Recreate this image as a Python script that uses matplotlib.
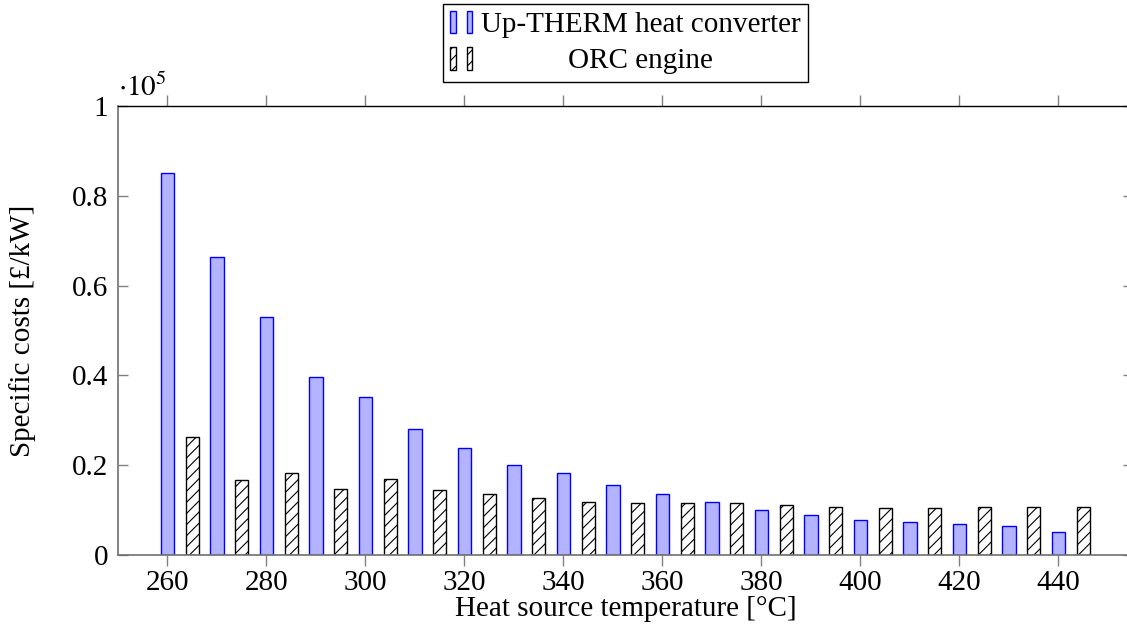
import matplotlib
matplotlib.use("Agg")
from matplotlib import pyplot as plt
from matplotlib.legend_handler import HandlerTuple
from matplotlib.patches import Patch
from matplotlib.ticker import FuncFormatter

# heat source temperature [°C]
temps_up = [260, 270, 280, 290, 300, 310, 320, 330, 340, 350,
            360, 370, 380, 390, 400, 410, 420, 430, 440]
temps_orc = [265, 275, 285, 295, 305, 315, 325, 335, 345, 355,
             365, 375, 385, 395, 405, 415, 425, 435, 445]

# specific costs [£/kW]
up_costs = [85100, 66500, 53100, 39600, 35300, 28000, 23800, 20000, 18300, 15700,
            13600, 11800, 10000, 8800, 7800, 7300, 7000, 6500, 5100]
orc_costs = [26200, 16600, 18200, 14600, 16900, 14400, 13700, 12700, 11900, 11600,
             11600, 11500, 11100, 10700, 10400, 10500, 10600, 10600, 10600]

x_ticks = [260, 280, 300, 320, 340, 360, 380, 400, 420, 440]
y_ticks = [0, 20000, 40000, 60000, 80000, 100000]

plt.rcParams['font.family'] = ['Liberation Serif', 'DejaVu Serif']
plt.rcParams['mathtext.fontset'] = 'stix'
plt.rcParams['hatch.linewidth'] = 0.8
fs = 21

fig = plt.figure(figsize=(11.27, 6.35), dpi=100)
ax = fig.add_axes([0.1047, 0.126, 0.9004, 0.7067])

ax.bar(temps_up, up_costs, width=2.7, color='#b3b3ff', edgecolor='blue', linewidth=1.0, zorder=2)
ax.bar(temps_orc, orc_costs, width=2.7, facecolor='white', edgecolor='black', hatch='///',
       linewidth=1.0, zorder=2)

ax.set_xlim(250, 455)
ax.set_ylim(0, 100000)
ax.set_xticks(x_ticks)
ax.set_yticks(y_ticks)
ax.yaxis.set_major_formatter(FuncFormatter(lambda v, p: f'{v / 1e5:g}'))

ax.tick_params(axis='x', direction='out', top=True, length=8, width=1, color='#808080',
               labelsize=fs, pad=3)
ax.tick_params(axis='y', direction='in', right=True, length=7.5, width=1, color='#808080',
               labelsize=fs, pad=7)
for s in ['left', 'bottom']:
    ax.spines[s].set_color('#707070')
    ax.spines[s].set_linewidth(1.2)
for s in ['top', 'right']:
    ax.spines[s].set_color('black')
    ax.spines[s].set_linewidth(1.0)

ax.set_xlabel('Heat source temperature [°C]', fontsize=fs, labelpad=0)
ax.set_ylabel('Specific costs [£/kW]', fontsize=fs, labelpad=26)
ax.text(0.0, 1.01, r'$\cdot 10^{5}$', transform=ax.transAxes, fontsize=fs, ha='left', va='bottom')

h_up = Patch(facecolor='#b3b3ff', edgecolor='blue', linewidth=1.0)
h_orc = Patch(facecolor='white', edgecolor='black', hatch='///', linewidth=1.0)
leg = ax.legend([(h_up, h_up), (h_orc, h_orc)], ['Up-THERM heat converter', 'ORC engine'],
                handler_map={tuple: HandlerTuple(ndivide=None, pad=0.38)},
                loc='lower center', bbox_to_anchor=(0.5, 1.022), fontsize=fs,
                handlelength=0.75, handleheight=0.8, handletextpad=0.3,
                borderpad=0.25, labelspacing=0.3, fancybox=False, framealpha=1,
                edgecolor='black')
leg.get_frame().set_linewidth(1.0)

# centre the shorter label like pgfplots does
fig.canvas.draw()
r = fig.canvas.get_renderer()
t0, t1 = leg.get_texts()
dw = t0.get_window_extent(r).width - t1.get_window_extent(r).width
t1.set_x(dw / 2)

fig.savefig('out.png', dpi=100)
